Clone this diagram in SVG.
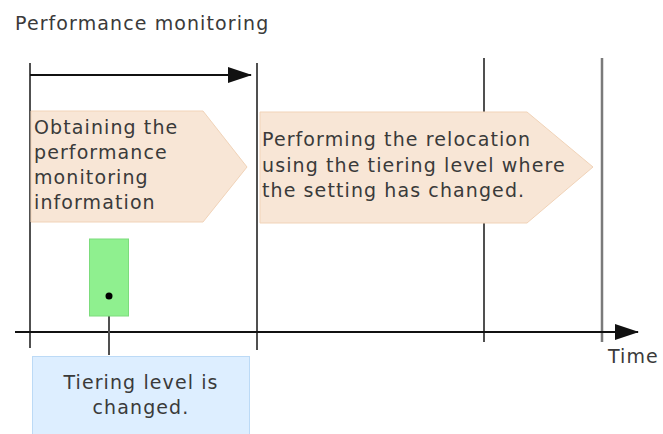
<svg xmlns="http://www.w3.org/2000/svg" width="663" height="434" viewBox="0 0 663 434">
<style>
text{font-family:"DejaVu Sans",Verdana,sans-serif;font-size:19px;letter-spacing:1.1px;fill:#3a3a3a}
.v{stroke:#505050;stroke-width:2}
.v2{stroke:#7a7a7a;stroke-width:2.5}
.ax{stroke:#111;stroke-width:2;fill:none}
.pent{fill:#f8e6d6;stroke:#f1d3b8;stroke-width:1}
</style>
<defs>
<marker id="ah2" markerWidth="24" markerHeight="16" refX="23" refY="8" orient="auto" markerUnits="userSpaceOnUse">
<path d="M0,0 L24,8 L0,16 z" fill="#111"/>
</marker>
</defs>
<text x="15" y="30">Performance monitoring</text>
<g id="connectors">
<line class="v" x1="30" y1="63" x2="30" y2="348"/>
<line class="v" x1="257" y1="63" x2="257" y2="350"/>
<line class="v" x1="484" y1="58" x2="484" y2="342"/>
<line class="v2" x1="602" y1="58" x2="602" y2="342"/>
<line class="ax" x1="30" y1="75" x2="251" y2="75" marker-end="url(#ah2)"/>
<line class="ax" x1="15" y1="332" x2="638" y2="332" marker-end="url(#ah2)"/>
<line x1="109" y1="296" x2="109" y2="355" stroke="#505050" stroke-width="2"/>
</g>
<g id="obtain">
<polygon class="pent" points="31,111 203,111 247,167 203,222 31,222"/>
<text x="34" y="134">Obtaining the</text>
<text x="34" y="159">performance</text>
<text x="34" y="184">monitoring</text>
<text x="34" y="209">information</text>
</g>
<g id="relocation">
<polygon class="pent" points="260,112 527,112 593,167 527,223 260,223"/>
<text x="262" y="146">Performing the relocation</text>
<text x="262" y="172">using the tiering level where</text>
<text x="262" y="197">the setting has changed.</text>
</g>
<g id="green">
<rect x="89.5" y="239" width="39" height="77" fill="#8ff08f" stroke="#7cdc7c" stroke-width="1"/>
<circle cx="109" cy="296" r="3.5" fill="#000"/>
</g>
<g id="tiering">
<rect x="32.5" y="356.5" width="217" height="85" fill="#ddeeff" stroke="#bcdaf6" stroke-width="1"/>
<text x="141" y="389" text-anchor="middle">Tiering level is</text>
<text x="141" y="414" text-anchor="middle">changed.</text>
</g>
<text x="608" y="363">Time</text>
</svg>
